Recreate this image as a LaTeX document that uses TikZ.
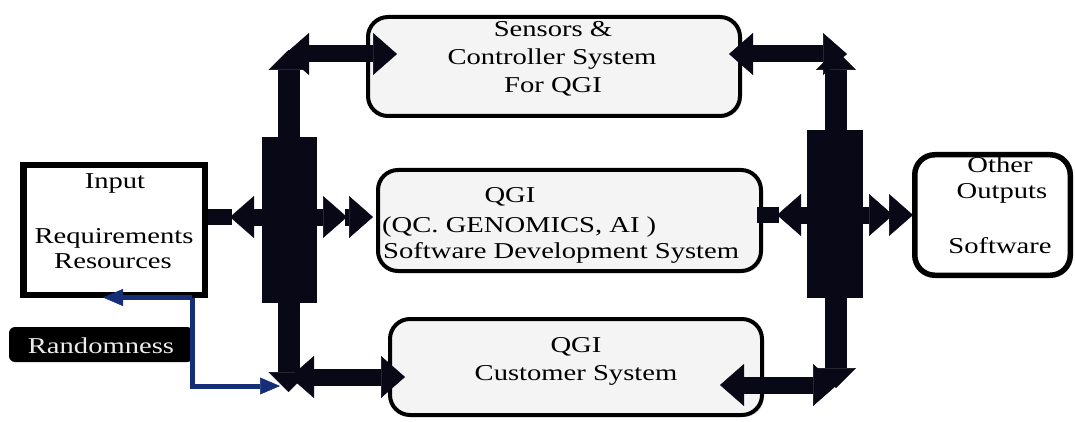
\documentclass[tikz,border=0pt]{standalone}
\usepackage{fontspec}
\setmainfont{Liberation Serif}[FakeStretch=1.26]
\usetikzlibrary{arrows.meta,shadows}
\definecolor{ink}{RGB}{8,8,22}
\definecolor{navy}{RGB}{22,46,120}
\definecolor{boxfill}{RGB}{244,244,244}
\begin{document}
\begin{tikzpicture}[x=1pt,y=-1pt,
  txt/.style={font=\fontsize{22.7}{28}\selectfont, inner sep=0pt, anchor=base},
  roundbox/.style={draw=black, line width=4pt, rounded corners=20pt, fill=boxfill,
    drop shadow={shadow xshift=2pt, shadow yshift=-2pt, opacity=.25}, inner sep=0pt},
  bus/.style={fill=ink, draw=none, inner sep=0pt},
  fat/.style={draw=ink, line width=17pt, -{Triangle[width=42pt,length=24pt,line width=0.5pt]}},
  fatboth/.style={draw=ink, line width=17pt, {Triangle[width=42pt,length=24pt,line width=0.5pt]}-{Triangle[width=42pt,length=24pt,line width=0.5pt]}},
  shaft/.style={draw=ink, line width=16pt},
  trunk/.style={draw=ink, line width=22pt, {Triangle[width=40pt,length=20pt,line width=0.5pt]}-{Triangle[width=40pt,length=20pt,line width=0.5pt]}},
  bluearrow/.style={draw=navy, line width=5pt, -{Triangle[width=17pt,length=20pt,line width=0.5pt]}}
]
\useasboundingbox[fill=white] (0,0) rectangle (1075,422);

% boxes
\node[draw=black, line width=6.5pt, fill=white, minimum width=181.5pt, minimum height=129.5pt, inner sep=0pt] (inp) at (114,230) {};
\node[fill=black, rounded corners=6pt, minimum width=184pt, minimum height=35pt, inner sep=0pt] (rnd) at (101,344.5) {};
\node[roundbox, minimum width=372pt, minimum height=99pt] (sens) at (554,66.5) {};
\node[roundbox, minimum width=383pt, minimum height=101pt] (dev) at (569.5,220.5) {};
\node[roundbox, minimum width=372pt, minimum height=96pt] (cust) at (576,367) {};
\node[draw=black, line width=5.5pt, fill=white, rounded corners=20pt, minimum width=155.5pt, minimum height=120.5pt, inner sep=0pt] (out) at (992.5,215) {};

% vertical trunks
\coordinate (ltop) at (288.5,50);
\coordinate (lbot) at (288.5,392);
\coordinate (rtop) at (836,50);
\coordinate (rbot) at (836,388);
\draw[trunk] (lbot) -- (ltop);
\draw[trunk] (rbot) -- (rtop);

% bus blocks
\node[bus, minimum width=55pt, minimum height=166pt] (lbus) at (289.5,220) {};
\node[bus, minimum width=56pt, minimum height=168pt] (rbus) at (835,214) {};

% arrow end points
\coordinate (a1) at (285,54);   \coordinate (a2) at (397,54);
\coordinate (b1) at (729,54);   \coordinate (b2) at (847,54);
\coordinate (c1) at (230,217);  \coordinate (c2) at (347,217); \coordinate (c3) at (373,217);
\coordinate (d1) at (777,215);  \coordinate (d2) at (893,215); \coordinate (d3) at (913,215);
\coordinate (e1) at (290,377);  \coordinate (e2) at (405,377);
\coordinate (f1) at (720,385);  \coordinate (f2) at (837,385);

% upper branches
\draw[fatboth] (a1) -- (a2);
\draw[fatboth] (b1) -- (b2);

% middle branch
\draw[shaft] (inp.east |- c1) -- ([xshift=2pt]c1);
\draw[fat] (lbus.west |- c1) -- (c1);
\draw[fat] (lbus.east |- c2) -- (c2);
\draw[fat] ([xshift=-2pt]c2) -- (c3);
\draw[shaft] ([xshift=-6pt]dev.east |- d1) -- ([xshift=2pt]d1);
\draw[fat] (rbus.west |- d1) -- (d1);
\draw[fat] (rbus.east |- d2) -- (d2);
\draw[fat] ([xshift=-2pt]d2) -- (d3);

% lower branches
\draw[fatboth] (e1) -- (e2);
\draw[fatboth] (f1) -- (f2);

% randomness feedback
\coordinate (bj) at (192,297.5);
\coordinate (bl) at (103,297.5);
\coordinate (br) at (280,386);
\draw[bluearrow] (bj) -- (bl);
\draw[bluearrow] (bj) -- (bj |- br) -- (br);

% labels
\node[txt] at (115,188) {Input};
\node[txt] at (114,243) {Requirements};
\node[txt] at (113,268) {Resources};
\node[txt, text=white!92!black] at (101,353) {Randomness};

\node[txt] at (553,37) {Sensors \&};
\node[txt] at (552,65) {Controller System};
\node[txt] at (553,93) {For QGI};

\node[txt] at (510,202) {QGI};
\node[txt, anchor=base west] at (382,232) {(QC. GENOMICS, AI )};
\node[txt, anchor=base west] at (383,258) {Software Development System};

\node[txt] at (576,352) {QGI};
\node[txt] at (576,380) {Customer System};

\node[txt] at (1000,173) {Other};
\node[txt] at (1002,198) {Outputs};
\node[txt] at (1000,253) {Software};
\end{tikzpicture}
\end{document}
